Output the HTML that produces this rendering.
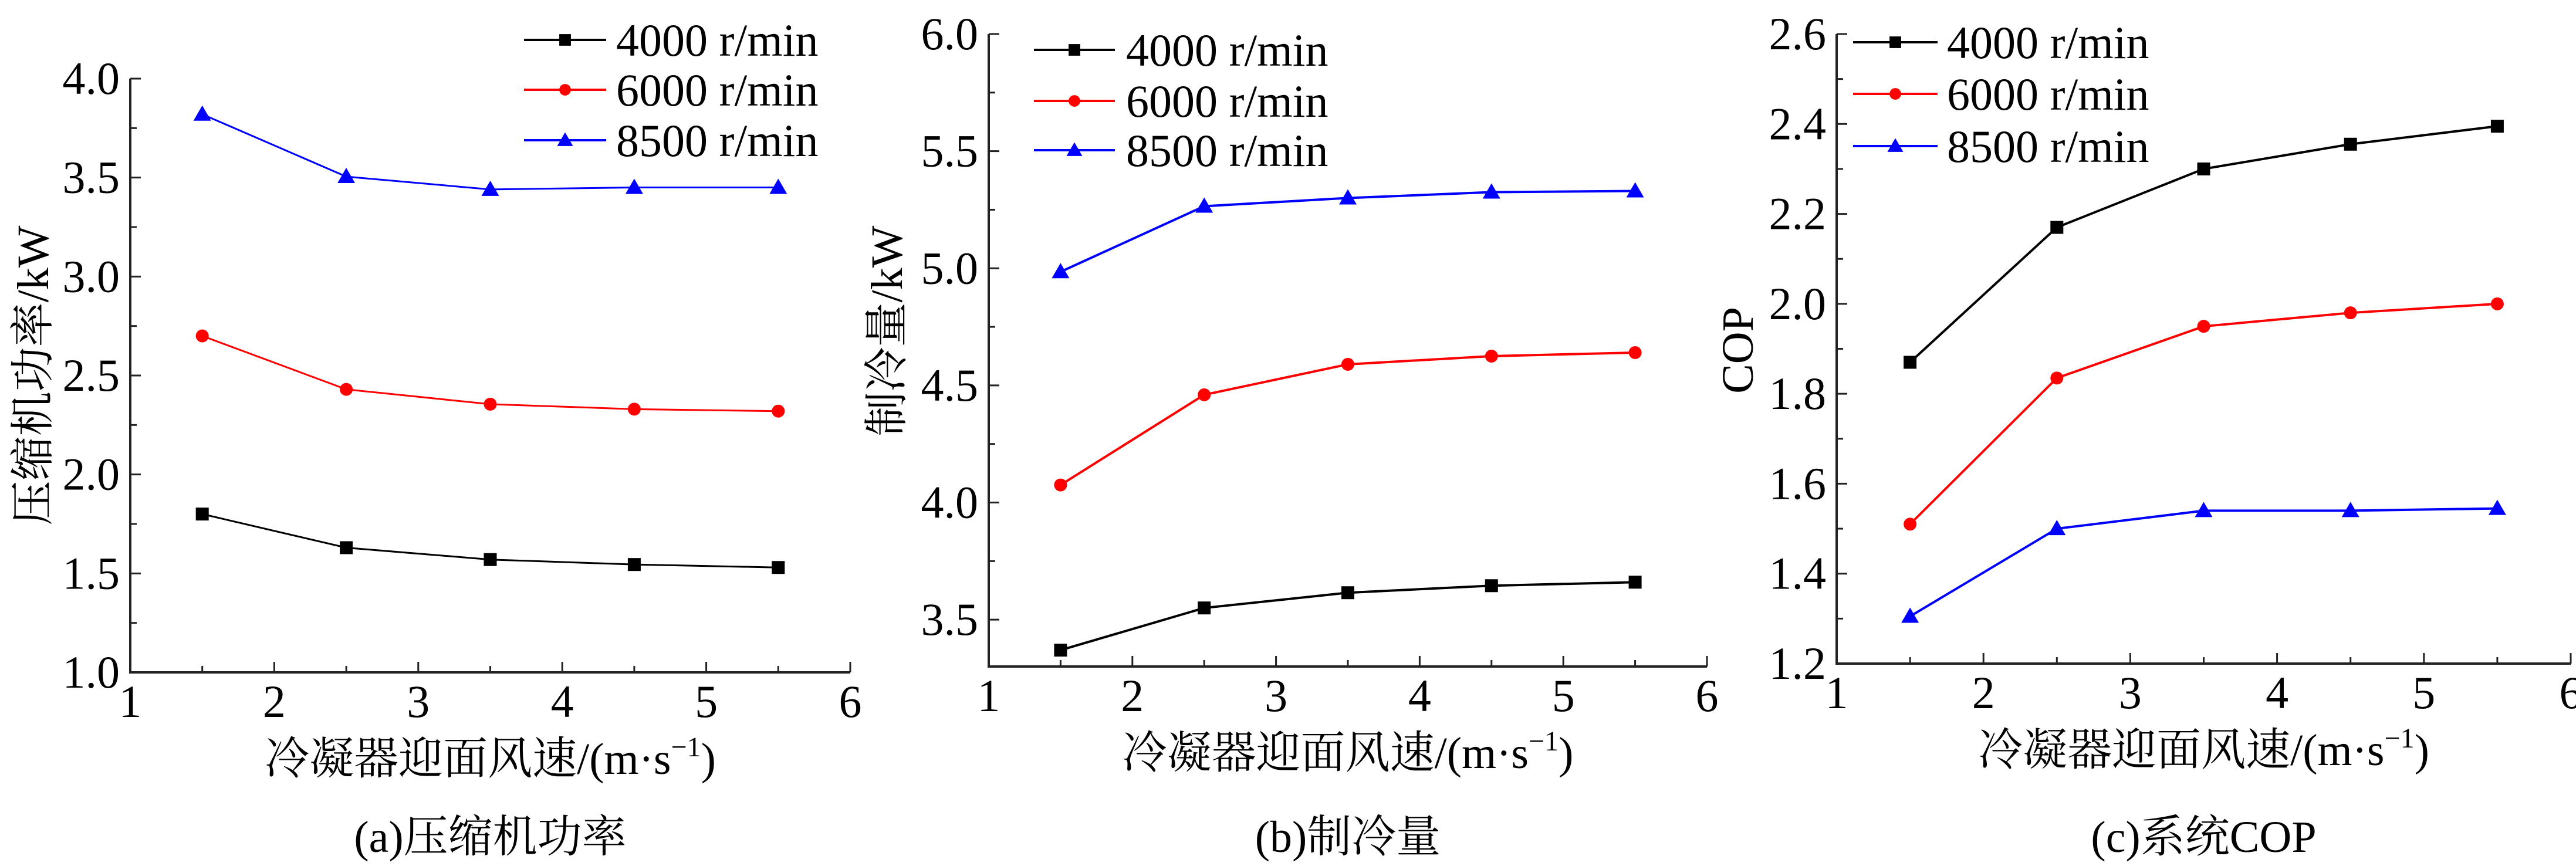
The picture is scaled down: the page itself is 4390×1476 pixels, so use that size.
<!DOCTYPE html>
<html><head><meta charset="utf-8"><style>
html,body{margin:0;padding:0;background:#fff}
svg{display:block}
svg text{font-family:"Liberation Serif","Noto Serif CJK SC","Noto Sans CJK SC",serif;fill:#000}
</style></head><body>
<svg id="fig" width="4390" height="1476" viewBox="0 0 4390 1476" xmlns="http://www.w3.org/2000/svg" font-family="'Liberation Serif','Noto Serif CJK SC',serif"></svg>
<script>
const xCategories = [1.5, 2.5, 3.5, 4.5, 5.5];
const seriesNames = ['4000 r/min', '6000 r/min', '8500 r/min'];
const powerA4000 = [1.80, 1.63, 1.57, 1.545, 1.53];
const powerA6000 = [2.70, 2.43, 2.355, 2.33, 2.32];
const powerA8500 = [3.82, 3.505, 3.44, 3.45, 3.45];
const coolB4000 = [3.37, 3.55, 3.615, 3.645, 3.66];
const coolB6000 = [4.075, 4.46, 4.59, 4.625, 4.64];
const coolB8500 = [4.985, 5.265, 5.30, 5.325, 5.33];
const copC4000 = [1.87, 2.17, 2.30, 2.355, 2.395];
const copC6000 = [1.51, 1.835, 1.95, 1.98, 2.00];
const copC8500 = [1.305, 1.50, 1.54, 1.54, 1.545];
const xTicks = [1, 2, 3, 4, 5, 6];
const yTicksA = ['1.0','1.5','2.0','2.5','3.0','3.5','4.0'];
const yTicksB = ['3.5','4.0','4.5','5.0','5.5','6.0'];
const yTicksC = ['1.2','1.4','1.6','1.8','2.0','2.2','2.4','2.6'];

const NS='http://www.w3.org/2000/svg';
const svg=document.getElementById('fig');
const FONT="'Liberation Serif','Noto Serif CJK SC',serif";
const colors=['#000000','#ff0000','#0000ff'];
function mk(tag,attrs,parent){const e=document.createElementNS(NS,tag);for(const k in attrs)e.setAttribute(k,attrs[k]);if(tag==='text')e.setAttribute('font-family',FONT);(parent||svg).appendChild(e);return e;}

const panels=[
 {id:'a',x0:222,x1:1449,yTop:134,yBot:1146,ymin:1.0,ymax:4.0,minor:0.25,ticks:yTicksA,data:[powerA4000,powerA6000,powerA8500],
  ytitle:'压缩机功率/kW',ytx:57,yty:640,cap:'(a)压缩机功率',lg:{x1:893,x2:1033,tx:1050,ys:[68,153,239]},lw:3},
 {id:'b',x0:1685,x1:2909,yTop:58,yBot:1136,ymin:3.3,ymax:6.0,minor:0.25,ticks:yTicksB,data:[coolB4000,coolB6000,coolB8500],
  ytitle:'制冷量/kW',ytx:1512,yty:564,cap:'(b)制冷量',lg:{x1:1762,x2:1900,tx:1919,ys:[85,172,256]},lw:4},
 {id:'c',x0:3130,x1:4381,yTop:58,yBot:1131,ymin:1.2,ymax:2.6,minor:0.1,ticks:yTicksC,data:[copC4000,copC6000,copC8500],
  ytitle:'COP',ytx:2962,yty:597,cap:'(c)系统COP',lg:{x1:3158,x2:3302,tx:3318,ys:[72,160,249]},lw:4}
];

function marker(i,x,y,g,s){
  let e;
  if(i===0){e=mk('rect',{x:x-11*s,y:y-11*s,width:22*s,height:22*s,fill:colors[0]},g);}
  else if(i===1){e=mk('circle',{cx:x,cy:y,r:11*s,fill:colors[1]},g);}
  else {e=mk('polygon',{points:`${x},${y-15*s} ${x-15*s},${y+11*s} ${x+15*s},${y+11*s}`,fill:colors[2]},g);}
  
  
}

panels.forEach(p=>{
  const g=mk('g',{});
  
  
  const xs=v=>p.x0+(v-1)/5*(p.x1-p.x0);
  const ys=v=>p.yBot-(v-p.ymin)/(p.ymax-p.ymin)*(p.yBot-p.yTop);
  const ax=mk('path',{d:`M${p.x0},${p.yTop} L${p.x0},${p.yBot} L${p.x1},${p.yBot}`,fill:'none',stroke:'#222',"stroke-width":4},g);
  
  
  const step=parseFloat(p.ticks[1])-parseFloat(p.ticks[0]);
  for(let v=parseFloat(p.ticks[0]);v<=p.ymax+1e-6;v+=p.minor){
    const r=(v-parseFloat(p.ticks[0]))/step;
    const isMajor=Math.abs(r-Math.round(r))<1e-6;
    mk('line',{x1:p.x0,x2:p.x0+(isMajor?18:11),y1:ys(v),y2:ys(v),stroke:'#222','stroke-width':3},g);
  }
  p.ticks.forEach(t=>{
    const tx=mk('text',{x:p.x0-18,y:ys(parseFloat(t))+26,'font-size':78,'text-anchor':'end'},g);
    tx.textContent=t;
    
    
  });
  for(let v=1;v<=6.0001;v+=0.5){
    const major=Math.abs(v-Math.round(v))<1e-6;
    mk('line',{x1:xs(v),x2:xs(v),y1:p.yBot,y2:p.yBot-(major?18:11),stroke:'#222','stroke-width':3},g);
  }
  xTicks.forEach(t=>{
    const tx=mk('text',{x:xs(t),y:p.yBot+76,'font-size':78,'text-anchor':'middle'},g);
    tx.textContent=t;
    
    
  });
  const xt=mk('text',{x:(p.x0+p.x1)/2,y:p.yBot+173,'font-size':76,'text-anchor':'middle'},g);
  xt.innerHTML='冷凝器迎面风速/(m·s<tspan dy="-30" font-size="48">−1</tspan><tspan dy="30">)</tspan>';
  
  
  const yt=mk('text',{x:p.ytx,y:p.yty,'font-size':76,'text-anchor':'middle','dominant-baseline':'central',transform:`rotate(-90 ${p.ytx} ${p.yty})`},g);
  yt.textContent=p.ytitle;
  
  
  const cp=mk('text',{x:(p.x0+p.x1)/2,y:1452,'font-size':76,'text-anchor':'middle'},g);
  cp.textContent=p.cap;
  
  
  p.data.forEach((arr,i)=>{
    const sg=mk('g',{},g);
    
    
    const pts=arr.map((v,k)=>xs(xCategories[k])+','+ys(v)).join(' ');
    const pl=mk('polyline',{points:pts,fill:'none',stroke:colors[i],'stroke-width':p.lw},sg);
    
    
    arr.forEach((v,k)=>marker(i,xs(xCategories[k]),ys(v),sg,1));
  });
  const lg=mk('g',{},g);
  
  
  seriesNames.forEach((n,i)=>{
    const y=p.lg.ys[i];
    const eg=mk('g',{},lg);
    
    
    mk('line',{x1:p.lg.x1,x2:p.lg.x2,y1:y,y2:y,stroke:colors[i],'stroke-width':4},eg);
    marker(i,(p.lg.x1+p.lg.x2)/2,y,eg,0.9);
    const t=mk('text',{x:p.lg.tx,y:y+27,'font-size':78},eg);
    t.textContent=n;
  });
});
</script>
</body></html>
